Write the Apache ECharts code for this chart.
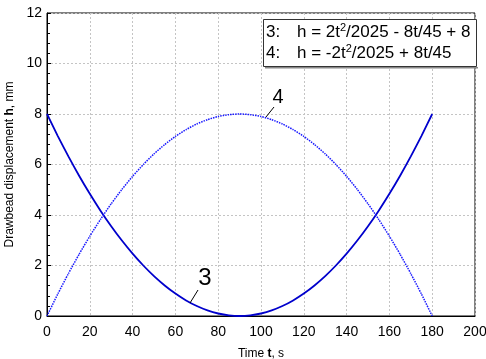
<!DOCTYPE html>
<html>
<head>
<meta charset="utf-8">
<script src="https://cdn.jsdelivr.net/npm/echarts@6/dist/echarts.min.js"></script>
<style>
  html, body { margin: 0; padding: 0; background: #fff; }
  #chart { width: 486px; height: 359px; }
</style>
</head>
<body>
<div id="chart"></div>
<script>
// time t, s
const timeSec = [0, 5, 10, 15, 20, 25, 30, 35, 40, 45, 50, 55, 60, 65, 70, 75, 80, 85, 90,
  95, 100, 105, 110, 115, 120, 125, 130, 135, 140, 145, 150, 155, 160, 165, 170, 175, 180];
// curve 3: h = 2t^2/2025 - 8t/45 + 8
const curve3 = [8, 7.136, 6.321, 5.556, 4.840, 4.173, 3.556, 2.988, 2.469, 2.0, 1.580, 1.210, 0.889, 0.617, 0.395, 0.222, 0.099, 0.025, 0,
  0.025, 0.099, 0.222, 0.395, 0.617, 0.889, 1.210, 1.580, 2.0, 2.469, 2.988, 3.556, 4.173, 4.840, 5.556, 6.321, 7.136, 8];
// curve 4: h = -2t^2/2025 + 8t/45
const curve4 = [0, 0.864, 1.679, 2.444, 3.160, 3.827, 4.444, 5.012, 5.531, 6.0, 6.420, 6.790, 7.111, 7.383, 7.605, 7.778, 7.901, 7.975, 8,
  7.975, 7.901, 7.778, 7.605, 7.383, 7.111, 6.790, 6.420, 6.0, 5.531, 5.012, 4.444, 3.827, 3.160, 2.444, 1.679, 0.864, 0];

const chart = echarts.init(document.getElementById('chart'));
const font = 'Liberation Sans, Arial, sans-serif';
const blue = '#0000cc';

const option = {
  backgroundColor: '#fff',
  animation: false,
  textStyle: { fontFamily: font },
  grid: {
    left: 47, right: 11, top: 13, bottom: 43,
    containLabel: false,
    outerBoundsMode: 'none',
    show: true, borderColor: '#000', borderWidth: 1
  },
  xAxis: {
    type: 'value', min: 0, max: 200, interval: 20,
    name: '{n|Time }{b|t}{n|, s}',
    nameLocation: 'middle', nameGap: 32,
    nameTextStyle: {
      rich: {
        n: { fontFamily: font, fontSize: 12, color: '#000' },
        b: { fontFamily: font, fontSize: 12, color: '#000', fontWeight: 'bold' }
      }
    },
    axisLine: { lineStyle: { color: '#000', width: 1 } },
    axisTick: { show: false },
    axisLabel: { color: '#000', fontSize: 14, margin: 9, fontFamily: font },
    splitLine: { lineStyle: { color: '#c4c4c4', type: [2, 2], width: 1 } }
  },
  yAxis: {
    type: 'value', min: 0, max: 12, interval: 2,
    name: '{n|Drawbead displacement }{b|h}{n|, mm}',
    nameLocation: 'middle', nameGap: 29,
    nameTextStyle: {
      rich: {
        n: { fontFamily: font, fontSize: 12, color: '#000' },
        b: { fontFamily: font, fontSize: 12, color: '#000', fontWeight: 'bold' }
      }
    },
    axisLine: { lineStyle: { color: '#000', width: 1 } },
    axisTick: { show: true, inside: true, length: 4, lineStyle: { color: '#000' } },
    minorTick: { show: true, splitNumber: 5, length: 3, lineStyle: { color: '#000' } },
    axisLabel: { color: '#000', fontSize: 14, margin: 5, fontFamily: font },
    splitLine: { lineStyle: { color: '#c4c4c4', type: [2, 2], width: 1 } }
  },
  series: [
    {
      name: '3',
      type: 'line',
      data: timeSec.map((t, i) => [t, curve3[i]]),
      showSymbol: false,
      smooth: 0.2,
      lineStyle: { color: blue, width: 1.8 }
    },
    {
      name: '4',
      type: 'line',
      data: timeSec.map((t, i) => [t, curve4[i]]),
      showSymbol: false,
      smooth: 0.2,
      lineStyle: { color: '#1a1aff', width: 1.5, type: [1.5, 1] }
    }
  ],
  graphic: [
    // legend box with formulas
    {
      type: 'rect', z: 100,
      shape: { x: 265, y: 67, width: 213, height: 1.5 },
      style: { fill: '#888' }
    },
    {
      type: 'rect', z: 101,
      shape: { x: 263.5, y: 19.5, width: 213, height: 47 },
      style: { fill: '#fff', stroke: '#333', lineWidth: 1 }
    },
    {
      type: 'text', z: 102, left: 266, top: 22,
      style: {
        text: '{l|3:}{n|h = 2t}{s|2}{n|/2025 - 8t/45 + 8}\n{l|4:}{n|h = -2t}{s|2}{n|/2025 + 8t/45}',
        rich: {
          l: { fontFamily: font, fontSize: 17, color: '#000', lineHeight: 21, width: 31 },
          n: { fontFamily: font, fontSize: 17, color: '#000', lineHeight: 21 },
          s: { fontFamily: font, fontSize: 11, color: '#000', lineHeight: 21, verticalAlign: 'top', padding: [0, 0, 6, 0] }
        }
      }
    },
    // curve labels
    {
      type: 'text', z: 102, x: 278, y: 97,
      style: { text: '4', fontFamily: font, fontSize: 20, fill: '#000', align: 'center', verticalAlign: 'middle' }
    },
    {
      type: 'line', z: 102, shape: { x1: 274, y1: 107, x2: 266, y2: 117 },
      style: { stroke: '#000', lineWidth: 1 }
    },
    {
      type: 'text', z: 102, x: 205, y: 278,
      style: { text: '3', fontFamily: font, fontSize: 24, fill: '#000', align: 'center', verticalAlign: 'middle' }
    },
    {
      type: 'line', z: 102, shape: { x1: 198, y1: 290, x2: 190, y2: 303 },
      style: { stroke: '#000', lineWidth: 1 }
    }
  ]
};

chart.setOption(option);
</script>
</body>
</html>
